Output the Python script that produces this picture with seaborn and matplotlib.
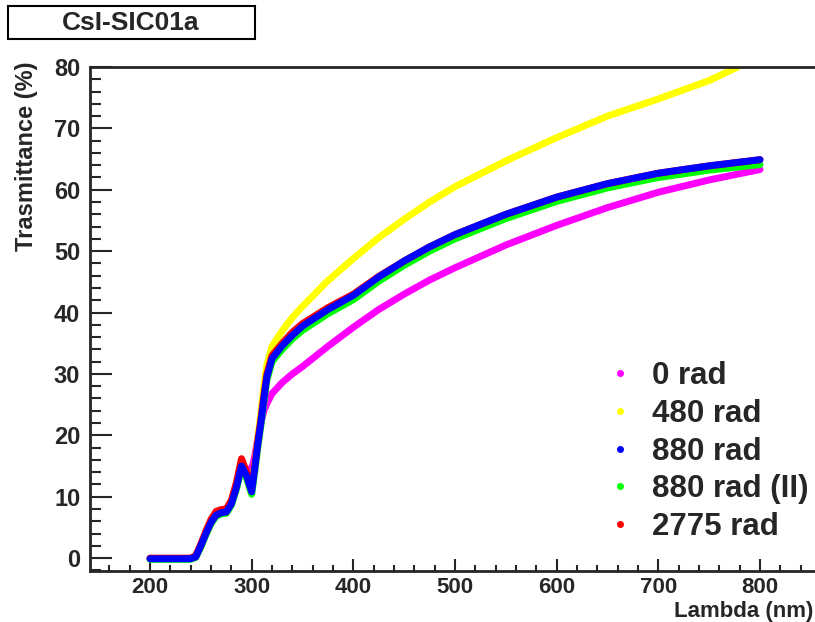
import pandas as pd
import matplotlib
matplotlib.use('Agg')
import matplotlib.pyplot as plt
from matplotlib.lines import Line2D
from matplotlib.patches import Rectangle
from matplotlib.ticker import MultipleLocator
import seaborn as sns

# Wavelength grids (nm)
low_x = [200, 210, 220, 230, 240, 245, 250, 255, 260, 265, 270, 275, 280,
         285, 290, 295, 300, 303, 306, 309, 312, 315, 320]
high_x = [330, 340, 350, 375, 400, 425, 450, 475, 500, 550, 600, 650, 700, 750, 800]
yellow_high_x = [330, 340, 350, 375, 400, 425, 450, 475, 500, 525, 550, 600,
                 650, 700, 750, 778]

# Transmittance (%)
rad0_low = [-0.1, -0.1, -0.1, -0.1, -0.1, 0.2, 2.0, 4.0, 5.8, 7.0, 7.4, 7.5, 8.8,
            11.5, 15.0, 14.5, 14.5, 16.5, 19.5, 22.0, 24.0, 25.2, 26.8]
rad0_high = [28.6, 30.0, 31.2, 34.5, 37.6, 40.5, 43.0, 45.3, 47.3, 51.0, 54.2,
             57.1, 59.6, 61.6, 63.3]

rad480_low = [-0.1, -0.1, -0.1, -0.1, -0.1, 0.2, 2.0, 4.0, 5.8, 7.0, 7.4, 7.5, 8.8,
              11.5, 15.0, 13.6, 11.8, 15.0, 19.5, 23.5, 28.0, 31.5, 34.5]
rad480_high = [37.0, 39.2, 41.0, 45.2, 48.8, 52.2, 55.2, 58.0, 60.5, 62.6, 64.7,
               68.5, 72.0, 74.8, 77.8, 80.0]

rad880_low = [-0.1, -0.1, -0.1, -0.1, -0.1, 0.2, 2.0, 4.0, 5.8, 7.0, 7.4, 7.5, 8.8,
              11.5, 15.0, 13.4, 10.8, 14.5, 18.5, 22.0, 26.0, 29.5, 32.5]
rad880_high = [34.6, 36.3, 37.8, 40.5, 42.8, 45.8, 48.4, 50.7, 52.7, 56.0, 58.8,
               61.0, 62.7, 63.9, 64.9]

rad880b_low = [-0.2, -0.2, -0.2, -0.2, -0.2, 0.1, 1.8, 3.8, 5.6, 6.8, 7.2, 7.3, 8.6,
               11.2, 14.6, 13.0, 10.4, 14.0, 18.0, 21.5, 25.5, 29.0, 32.0]
rad880b_high = [34.0, 35.7, 37.1, 39.8, 42.1, 45.1, 47.7, 50.0, 52.0, 55.3, 58.1,
                60.3, 62.0, 63.2, 64.1]

rad2775_low = [0.0, 0.0, 0.0, 0.0, 0.0, 0.4, 2.3, 4.4, 6.3, 7.6, 7.9, 8.0, 9.4,
               12.3, 16.2, 14.0, 11.6, 15.0, 19.0, 22.5, 26.5, 30.0, 33.0]
rad2775_high = [35.0, 36.8, 38.2, 40.8, 43.0, 45.9, 48.4, 50.7, 52.7, 56.0, 58.8,
                61.0, 62.7, 63.9, 64.9]

labels = ['0 rad', '480 rad', '880 rad', '880 rad (II)', '2775 rad']
colors = ['#ff00ff', '#ffff00', '#0000ff', '#00ff00', '#ff0000']

series = {
    '0 rad': (low_x + high_x, rad0_low + rad0_high),
    '480 rad': (low_x + yellow_high_x, rad480_low + rad480_high),
    '880 rad': (low_x + high_x, rad880_low + rad880_high),
    '880 rad (II)': (low_x + high_x, rad880b_low + rad880b_high),
    '2775 rad': (low_x + high_x, rad2775_low + rad2775_high),
}
frames = []
for name, (xs, ys) in series.items():
    frames.append(pd.DataFrame({'lambda': xs, 'T': ys, 'sample': name}))
df = pd.concat(frames, ignore_index=True)

sns.set_style('ticks')
plt.rcParams['font.family'] = ['Liberation Sans', 'DejaVu Sans']
plt.rcParams['font.weight'] = 'bold'

fig = plt.figure(figsize=(8.15, 6.22), dpi=100)
ax = fig.add_axes([90 / 815, 51 / 622, 729 / 815, 504 / 622])

# draw order: magenta, yellow, green, red, blue on top
draw_order = ['0 rad', '480 rad', '880 rad (II)', '2775 rad', '880 rad']
palette = dict(zip(labels, colors))
for name in draw_order:
    sns.lineplot(data=df[df['sample'] == name], x='lambda', y='T', color=palette[name],
                 lw=5, estimator=None, sort=False, legend=False, ax=ax,
                 solid_capstyle='round', solid_joinstyle='round')

ax.set_xlim(141, 858)
ax.set_ylim(-2.1, 80)
ax.xaxis.set_major_locator(MultipleLocator(100))
ax.xaxis.set_minor_locator(MultipleLocator(20))
ax.yaxis.set_major_locator(MultipleLocator(10))
ax.yaxis.set_minor_locator(MultipleLocator(2))
for s in ax.spines.values():
    s.set_linewidth(2)
ax.tick_params(axis='x', which='major', direction='in', length=9, width=1.5,
               labelsize=16, pad=4)
ax.tick_params(axis='x', which='minor', direction='in', length=4.5, width=1.5)
ax.tick_params(axis='y', which='major', direction='in', length=15.5, width=1.5,
               labelsize=17, pad=7)
ax.tick_params(axis='y', which='minor', direction='in', length=8, width=1.5)
for lab in ax.get_xticklabels() + ax.get_yticklabels():
    lab.set_fontweight('bold')

ax.set_xlabel('Lambda (nm)', fontsize=16, fontweight='bold', loc='right')
ax.set_ylabel('Trasmittance (%)', fontsize=17, fontweight='bold', loc='top')
ax.xaxis.set_label_coords((813 - 90) / 729, -0.06)
ax.yaxis.set_label_coords(-0.071, 1.01)

handles = [Line2D([], [], ls='none', marker='o', ms=4, color=c, mec=c) for c in colors]
ax.legend(handles, labels, loc='upper left', bbox_to_anchor=(0.675, 0.4726),
          frameon=False, handlelength=0.6, handletextpad=0.75,
          labelspacing=0.25, prop={'weight': 'bold', 'size': 22.5})

fig.add_artist(Rectangle((8 / 815, 1 - 39 / 622), 247 / 815, 33 / 622,
                         transform=fig.transFigure, fill=False, lw=1.5, color='black'))
fig.text(131 / 815, 1 - 23 / 622, 'CsI-SIC01a', ha='center', va='center',
         fontsize=19, fontweight='bold')

fig.savefig('out.png', dpi=100)
